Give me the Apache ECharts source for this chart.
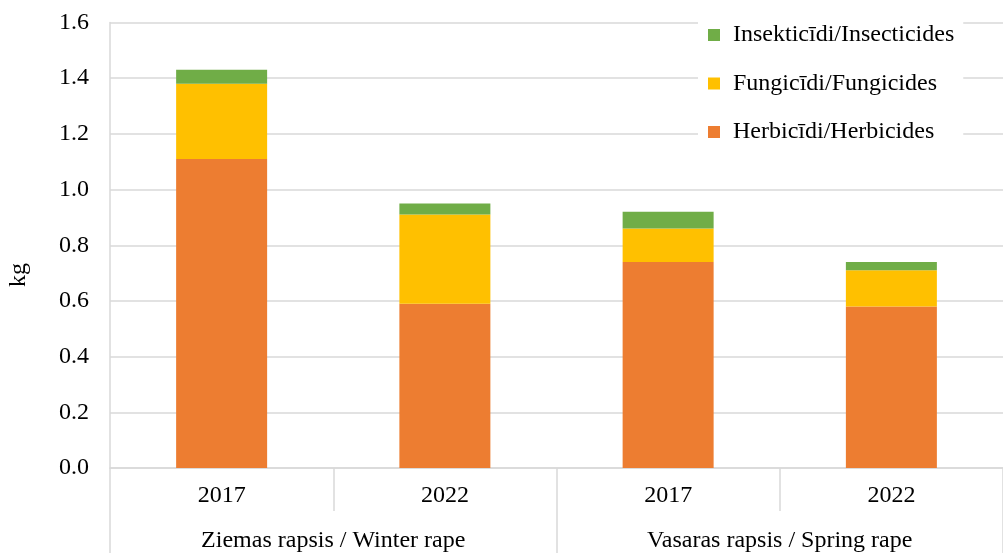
<!DOCTYPE html>
<html>
<head>
<meta charset="utf-8">
<script src="https://cdn.jsdelivr.net/npm/echarts@6/dist/echarts.min.js"></script>
<style>html,body{margin:0;padding:0;background:#fff}#c{width:1003px;height:553px}</style>
</head>
<body>
<div id="c"></div>
<script>
const years = ['2017', '2022', '2017', '2022'];
const crops = ['Ziemas rapsis / Winter rape', 'Vasaras rapsis / Spring rape'];
const herbicides = [1.11, 0.59, 0.74, 0.58];
const fungicides = [0.27, 0.32, 0.12, 0.13];
const insecticides = [0.05, 0.04, 0.06, 0.03];
const seriesNames = ['Herbicīdi/Herbicides', 'Fungicīdi/Fungicides', 'Insekticīdi/Insecticides'];
const yTicks = { min: 0, max: 1.6, interval: 0.2 };

const FONT = "'Liberation Serif', 'Times New Roman', serif";
const GRID = '#d9d9d9';
const chart = echarts.init(document.getElementById('c'), null, { renderer: 'canvas' });

const mk = (name, data, color) => ({
  name, type: 'bar', stack: 'total', data, barWidth: 91,
  itemStyle: { color }, xAxisIndex: 0, yAxisIndex: 0
});

chart.setOption({
  animation: false,
  backgroundColor: '#fff',
  grid: { left: 110, right: 0, top: 22.5, bottom: 83, containLabel: false },
  legend: {
    orient: 'vertical', left: 698, top: 19,
    padding: [4, 9, 4, 10],
    backgroundColor: '#fff',
    itemWidth: 12, itemHeight: 12, itemGap: 24.5,
    icon: 'rect',
    data: [seriesNames[2], seriesNames[1], seriesNames[0]],
    textStyle: { fontFamily: FONT, fontSize: 24, color: '#000', lineHeight: 24, padding: [0, 0, 0, 8] }
  },
  xAxis: [
    {
      type: 'category', data: years, position: 'bottom',
      axisLine: { show: true, lineStyle: { color: GRID, width: 1.5 } },
      axisTick: { show: true, length: 43, interval: 0, lineStyle: { color: GRID, width: 1.5 } },
      axisLabel: { margin: 16, fontFamily: FONT, fontSize: 24, color: '#000', lineHeight: 24 }
    },
    {
      type: 'category', data: crops, position: 'bottom', offset: 43,
      axisLine: { show: false },
      axisTick: { show: true, length: 42, interval: 0, lineStyle: { color: GRID, width: 1.5 } },
      axisLabel: { margin: 18, fontFamily: FONT, fontSize: 24, color: '#000', lineHeight: 24 }
    }
  ],
  yAxis: {
    type: 'value', min: yTicks.min, max: yTicks.max, interval: yTicks.interval,
    axisLine: { show: true, lineStyle: { color: GRID, width: 1.5 } },
    axisTick: { show: false },
    splitLine: { show: true, lineStyle: { color: GRID, width: 1.5 } },
    axisLabel: { margin: 21, fontFamily: FONT, fontSize: 24, color: '#000', formatter: v => v.toFixed(1) }
  },
  graphic: [{
    type: 'text', x: 19, y: 275, rotation: Math.PI / 2,
    style: { text: 'kg', fontFamily: FONT, fontSize: 24, fill: '#000', align: 'center', verticalAlign: 'middle' }
  }],
  series: [
    mk(seriesNames[0], herbicides, '#ED7D31'),
    mk(seriesNames[1], fungicides, '#FFC000'),
    mk(seriesNames[2], insecticides, '#70AD47')
  ]
});
</script>
</body>
</html>
